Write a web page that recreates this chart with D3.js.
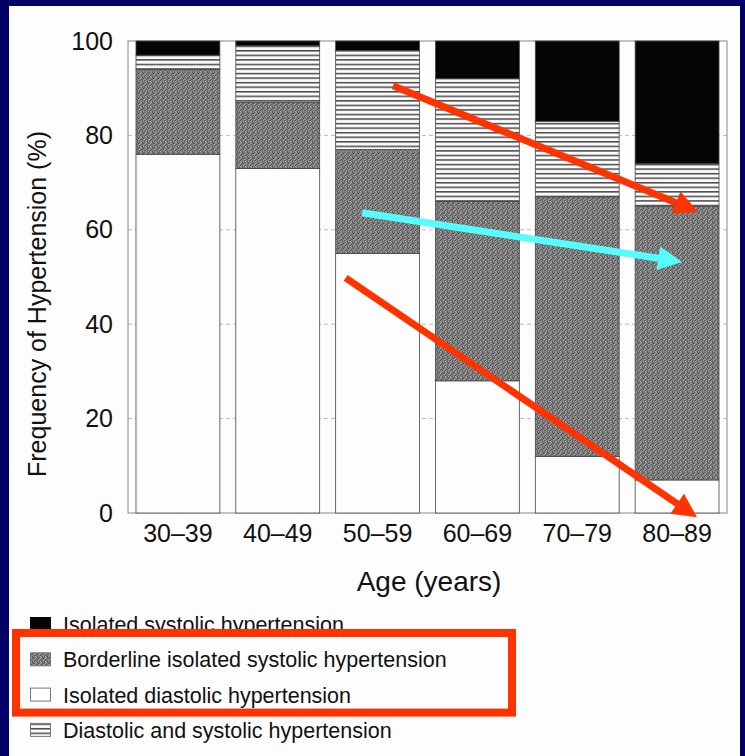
<!DOCTYPE html>
<html><head><meta charset="utf-8">
<script src="https://cdn.jsdelivr.net/npm/d3@7"></script>
<style>html,body{margin:0;padding:0;background:#000066;overflow:hidden} svg{display:block}</style>
</head><body><svg id="c" width="745" height="756"></svg>
<script>
// ---- data ----
const categories = ["30–39", "40–49", "50–59", "60–69", "70–79", "80–89"];
const isolatedDiastolic = [76, 73, 55, 28, 12, 7];
const borderlineSystolic = [18, 14, 22, 38, 55, 58];
const diastolicAndSystolic = [3, 12, 21, 26, 16, 9];
const isolatedSystolic = [3, 1, 2, 8, 17, 26];
const yTicks = [0, 20, 40, 60, 80, 100];
const seriesKeys = ["idh", "bish", "sdh", "ish"];
const legendLabels = ["Isolated systolic hypertension", "Borderline isolated systolic hypertension", "Isolated diastolic hypertension", "Diastolic and systolic hypertension"];
const legendKeys = ["ish", "bish", "idh", "sdh"];
const xTitle = "Age (years)";
const yTitle = "Frequency of Hypertension (%)";
// annotation arrows in data space: position in category steps from first bar's left edge, value in %
const arrows = [
  {color: "#ff3300", from: [2.575, 90.5], to: [5.63, 63.8]},
  {color: "#55ffff", from: [2.265, 63.6], to: [5.47, 53.2]},
  {color: "#ff3300", from: [2.10, 49.8], to: [5.62, -0.9]}
];

const table = categories.map((c, i) => ({cat: c, idh: isolatedDiastolic[i], bish: borderlineSystolic[i], sdh: diastolicAndSystolic[i], ish: isolatedSystolic[i]}));

const svg = d3.select("#c");
const FONT = "'Liberation Sans', Arial, Helvetica, sans-serif";

// background panel
svg.append("rect").attr("x", 0).attr("y", 0).attr("width", 745).attr("height", 756).attr("fill", "#000066");
svg.append("rect").attr("x", 9).attr("y", 6).attr("width", 731).attr("height", 750).attr("fill", "#fdfdfd");

// patterns
const defs = svg.append("defs");
const stip = defs.append("pattern").attr("id", "stip").attr("patternUnits", "userSpaceOnUse").attr("width", 5).attr("height", 5);
stip.append("rect").attr("width", 5).attr("height", 5).attr("fill", "#7c7c7c");
[[0,0,"#4a4a4a"],[2,1,"#5a5a5a"],[1,2,"#a4a4a4"],[3,3,"#444"],[3,1,"#9c9c9c"],[1,0,"#8e8e8e"],[0,3,"#9a9a9a"],[2,2,"#555"],[4,4,"#a0a0a0"],[4,1,"#606060"],[1,4,"#585858"],[3,4,"#929292"],[4,2,"#6a6a6a"],[0,1,"#b0b0b0"],[2,4,"#6e6e6e"]].forEach(d => {
  stip.append("rect").attr("x", d[0]).attr("y", d[1]).attr("width", 1).attr("height", 1).attr("fill", d[2]);
});
const lines = defs.append("pattern").attr("id", "lines").attr("patternUnits", "userSpaceOnUse").attr("width", 10).attr("height", 4.55);
lines.append("rect").attr("width", 10).attr("height", 4.55).attr("fill", "#fafafa");
lines.append("rect").attr("y", 0).attr("width", 10).attr("height", 1.5).attr("fill", "#4a4a4a");

const fills = {idh: "#fdfdfd", bish: "url(#stip)", sdh: "url(#lines)", ish: "#050505"};

// scales
const x = d3.scaleBand().domain(categories).range([128, 727]).paddingInner(0.16).paddingOuter(0.08);
const y = d3.scaleLinear().domain([0, 100]).range([513, 41]);
const xPos = p => x(categories[0]) + p * x.step();

// gridlines
svg.append("g").selectAll("line").data(yTicks.filter(t => t > 0 && t < 100)).join("line")
  .attr("x1", 128).attr("x2", 727).attr("y1", d => y(d)).attr("y2", d => y(d))
  .attr("stroke", "#bbb").attr("stroke-width", 1).attr("stroke-dasharray", "4,3");

// frame
svg.append("rect").attr("x", 128).attr("y", y(100)).attr("width", 727 - 128).attr("height", y(0) - y(100))
  .attr("fill", "none").attr("stroke", "#888").attr("stroke-width", 1);

// stacked bars
const stacked = d3.stack().keys(seriesKeys)(table);
svg.append("g").selectAll("g").data(stacked).join("g")
  .attr("fill", d => fills[d.key])
  .selectAll("rect").data(d => d).join("rect")
  .attr("x", d => x(d.data.cat)).attr("width", x.bandwidth())
  .attr("y", d => y(d[1])).attr("height", d => y(d[0]) - y(d[1]))
  .attr("stroke", "#444").attr("stroke-width", 0.8);

// axes
const yAxis = svg.append("g").attr("transform", "translate(128,0)")
  .call(d3.axisLeft(y).tickValues(yTicks).tickSize(0).tickPadding(15));
yAxis.select(".domain").remove();
yAxis.selectAll("text").attr("font-family", FONT).attr("font-size", 25).attr("fill", "#111");

const xAxis = svg.append("g").attr("transform", "translate(0,513)")
  .call(d3.axisBottom(x).tickSize(0).tickPadding(11));
xAxis.select(".domain").remove();
xAxis.selectAll("text").attr("font-family", FONT).attr("font-size", 25).attr("fill", "#111");

// titles
svg.append("text").attr("x", 429).attr("y", 591).attr("text-anchor", "middle")
  .attr("font-family", FONT).attr("font-size", 28).attr("fill", "#111").text(xTitle);
svg.append("text").attr("transform", "translate(46,304) rotate(-90)").attr("text-anchor", "middle")
  .attr("font-family", FONT).attr("font-size", 25).attr("fill", "#111").text(yTitle);

// legend
const lgY0 = 632, lgStep = 35.3;
const lg = svg.append("g");
legendKeys.forEach((k, i) => {
  const by = lgY0 + i * lgStep;
  lg.append("rect").attr("x", 30.5).attr("y", by - 14.5).attr("width", 20).attr("height", 13)
    .attr("fill", fills[k]).attr("stroke", k === "ish" ? "#050505" : "#777").attr("stroke-width", 1);
  lg.append("text").attr("x", 63).attr("y", by).attr("font-family", FONT).attr("font-size", 21.5)
    .attr("fill", "#111").text(legendLabels[i]);
});

// red highlight box around legend rows 2-3
svg.append("rect").attr("x", 16).attr("y", lgY0 + 1).attr("width", 496).attr("height", 2 * lgStep + 9)
  .attr("fill", "none").attr("stroke", "#ff3300").attr("stroke-width", 8);

// arrows
arrows.forEach(a => {
  const x0 = xPos(a.from[0]), y0 = y(a.from[1]);
  const x1 = xPos(a.to[0]), y1 = y(a.to[1]);
  const dx = x1 - x0, dy = y1 - y0, len = Math.hypot(dx, dy);
  const ux = dx / len, uy = dy / len;
  const hl = 24, hw = 12;
  const bx = x1 - ux * hl, by = y1 - uy * hl;
  svg.append("line").attr("x1", x0).attr("y1", y0).attr("x2", bx + ux * 2).attr("y2", by + uy * 2)
    .attr("stroke", a.color).attr("stroke-width", 7);
  svg.append("polygon")
    .attr("points", [[x1, y1], [bx - uy * hw, by + ux * hw], [bx + uy * hw, by - ux * hw]].map(p => p.join(",")).join(" "))
    .attr("fill", a.color);
});
</script>
</body></html>
